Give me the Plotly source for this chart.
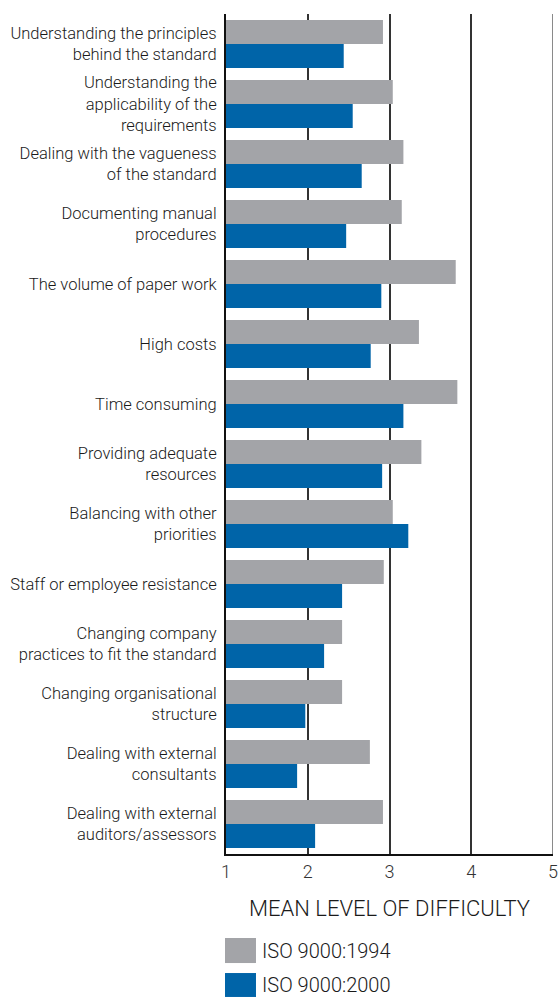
import plotly.graph_objects as go

categories = [
    "Understanding the principles<br>behind the standard",
    "Understanding the<br>applicability of the<br>requirements",
    "Dealing with the vagueness<br>of the standard",
    "Documenting manual<br>procedures",
    "The volume of paper work",
    "High costs",
    "Time consuming",
    "Providing adequate<br>resources",
    "Balancing with other<br>priorities",
    "Staff or employee resistance",
    "Changing company<br>practices to fit the standard",
    "Changing organisational<br>structure",
    "Dealing with external<br>consultants",
    "Dealing with external<br>auditors/assessors",
]
iso_1994 = [2.92, 3.04, 3.17, 3.15, 3.81, 3.36, 3.83, 3.39, 3.04, 2.93, 2.42, 2.42, 2.76, 2.92]
iso_2000 = [2.44, 2.55, 2.66, 2.47, 2.90, 2.77, 3.17, 2.91, 3.23, 2.42, 2.20, 1.97, 1.87, 2.09]
series_names = ["ISO 9000:1994", "ISO 9000:2000"]
x_ticks = [1, 2, 3, 4, 5]

GREY = "#a3a4a8"
BLUE = "#0064a8"
FONT = "Roboto"
TEXT = "#1a1a1a"
LIGHT = 300

fig = go.Figure()
# bars start at the axis origin (1), so base=1 and length = value - 1
fig.add_trace(go.Bar(
    y=categories, x=[v - 1 for v in iso_1994], base=1, orientation="h",
    name=series_names[0], marker=dict(color=GREY, line=dict(width=0)),
    hovertemplate="%{y}: %{customdata}<extra></extra>", customdata=iso_1994,
))
fig.add_trace(go.Bar(
    y=categories, x=[v - 1 for v in iso_2000], base=1, orientation="h",
    name=series_names[1], marker=dict(color=BLUE, line=dict(width=0)),
    hovertemplate="%{y}: %{customdata}<extra></extra>", customdata=iso_2000,
))

shapes = [
    # right-hand boundary line at the top of the scale
    dict(type="line", xref="x", yref="paper", x0=5, x1=5, y0=0, y1=1,
         line=dict(color="#8a8a8a", width=2), layer="above"),
]
annotations = []

# legend swatches and labels drawn below the axis title
legend_rows = [(-0.100, -0.1298), (-0.1417, -0.1702)]
for (y_top, y_bot), name, color in zip(legend_rows, series_names, [GREY, BLUE]):
    shapes.append(dict(type="rect", xref="paper", yref="paper",
                       x0=-0.003, x1=0.0917, y0=y_bot, y1=y_top,
                       fillcolor=color, line=dict(width=0), layer="above"))
    annotations.append(dict(text=name, xref="paper", yref="paper",
                            x=0.104, y=(y_top + y_bot) / 2,
                            xanchor="left", yanchor="middle", showarrow=False,
                            font=dict(family=FONT, size=20, color=TEXT, weight=LIGHT)))

annotations.append(dict(text="MEAN LEVEL OF DIFFICULTY", xref="paper", yref="paper",
                        x=0.5, y=-0.0643, xanchor="center", yanchor="middle",
                        showarrow=False,
                        font=dict(family=FONT, size=22, color=TEXT, weight=LIGHT)))

fig.update_layout(
    width=559, height=997,
    margin=dict(l=226, r=6, t=14, b=143, pad=0, autoexpand=False),
    paper_bgcolor="white", plot_bgcolor="white",
    barmode="group", bargap=0.2, bargroupgap=0,
    showlegend=False,
    font=dict(family=FONT, color=TEXT),
    shapes=shapes, annotations=annotations,
)
fig.update_xaxes(
    range=[1, 5], tickvals=x_ticks, ticktext=[str(t) for t in x_ticks],
    showgrid=True, gridcolor="#333333", gridwidth=1.5,
    showline=True, linecolor="#111111", linewidth=2,
    ticks="", tickfont=dict(family=FONT, size=18, color="#333333", weight=LIGHT),
    zeroline=False, fixedrange=True, automargin=False,
)
fig.update_yaxes(
    autorange="reversed", showgrid=False,
    showline=True, linecolor="#111111", linewidth=2,
    ticks="", ticklabelstandoff=4,
    tickfont=dict(family=FONT, size=16.5, color=TEXT, weight=LIGHT),
    fixedrange=True, automargin=False,
)

fig.write_html("out.html")
